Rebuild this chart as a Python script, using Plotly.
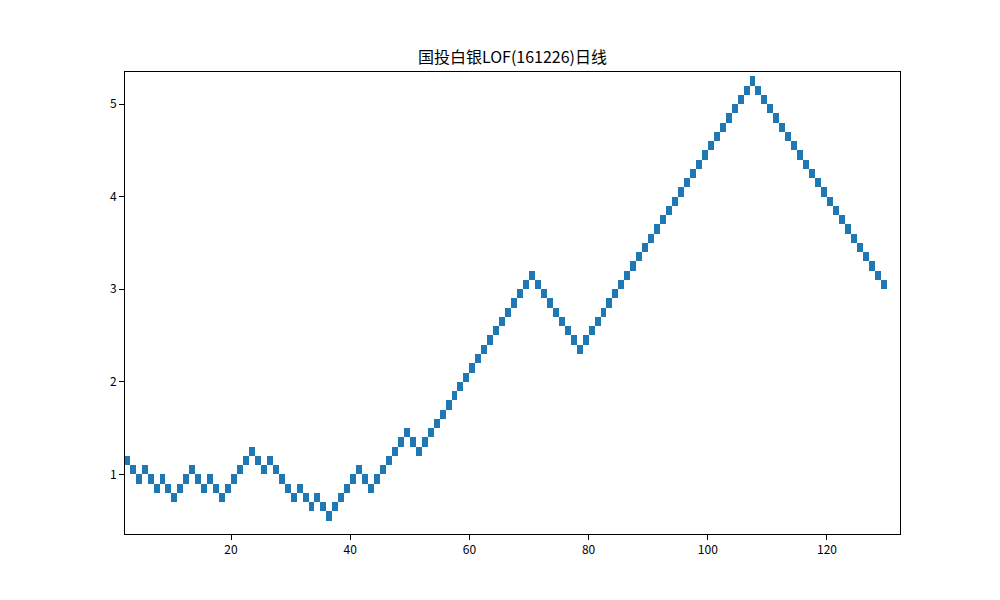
import plotly.graph_objects as go

# Renko brick data (each brick 0.1 tall, 1 unit wide)
brick_size = 0.1
start_index = 2
brick_lows = [
    1.1, 1.0, 0.9, 1.0, 0.9, 0.8, 0.9, 0.8, 0.7, 0.8,
    0.9, 1.0, 0.9, 0.8, 0.9, 0.8, 0.7, 0.8, 0.9, 1.0,
    1.1, 1.2, 1.1, 1.0, 1.1, 1.0, 0.9, 0.8, 0.7, 0.8,
    0.7, 0.6, 0.7, 0.6, 0.5, 0.6, 0.7, 0.8, 0.9, 1.0,
    0.9, 0.8, 0.9, 1.0, 1.1, 1.2, 1.3, 1.4, 1.3, 1.2,
    1.3, 1.4, 1.5, 1.6, 1.7, 1.8, 1.9, 2.0, 2.1, 2.2,
    2.3, 2.4, 2.5, 2.6, 2.7, 2.8, 2.9, 3.0, 3.1, 3.0,
    2.9, 2.8, 2.7, 2.6, 2.5, 2.4, 2.3, 2.4, 2.5, 2.6,
    2.7, 2.8, 2.9, 3.0, 3.1, 3.2, 3.3, 3.4, 3.5, 3.6,
    3.7, 3.8, 3.9, 4.0, 4.1, 4.2, 4.3, 4.4, 4.5, 4.6,
    4.7, 4.8, 4.9, 5.0, 5.1, 5.2, 5.1, 5.0, 4.9, 4.8,
    4.7, 4.6, 4.5, 4.4, 4.3, 4.2, 4.1, 4.0, 3.9, 3.8,
    3.7, 3.6, 3.5, 3.4, 3.3, 3.2, 3.1, 3.0,
]
x_ticks = [20, 40, 60, 80, 100, 120]
y_ticks = [1, 2, 3, 4, 5]
title_text = "国投白银LOF(161226)日线"

xs = [start_index + i + 0.5 for i in range(len(brick_lows))]

font_family = "Noto Sans CJK SC, DejaVu Sans, sans-serif"

# page has an 8px body margin; compensate so the plot lands where the reference has it
W, H = 984, 584

fig = go.Figure(
    go.Bar(
        x=xs,
        y=[brick_size] * len(brick_lows),
        base=brick_lows,
        width=1.0,
        marker=dict(color="#1f77b4", line=dict(width=0)),
        hoverinfo="skip",
    )
)

fig.update_layout(
    width=W,
    height=H,
    margin=dict(l=117, r=92, t=64, b=58),
    paper_bgcolor="white",
    plot_bgcolor="white",
    showlegend=False,
    bargap=0,
    font=dict(family=font_family, color="black", size=12),
    title=dict(
        text=title_text,
        x=504.5 / W,
        xref="container",
        xanchor="center",
        y=1 - 49 / H,
        yref="container",
        yanchor="middle",
        font=dict(family=font_family, size=16, color="black"),
    ),
)

axis_common = dict(
    showline=True,
    linecolor="black",
    linewidth=1,
    mirror=True,
    ticks="outside",
    ticklen=5,
    tickwidth=1,
    tickcolor="black",
    showgrid=False,
    zeroline=False,
    tickfont=dict(family=font_family, size=12, color="black"),
)

fig.update_xaxes(range=[2.21, 132.25], tickvals=x_ticks, **axis_common)
fig.update_yaxes(range=[0.355, 5.347], tickvals=y_ticks, **axis_common)

fig.write_html("out.html")
